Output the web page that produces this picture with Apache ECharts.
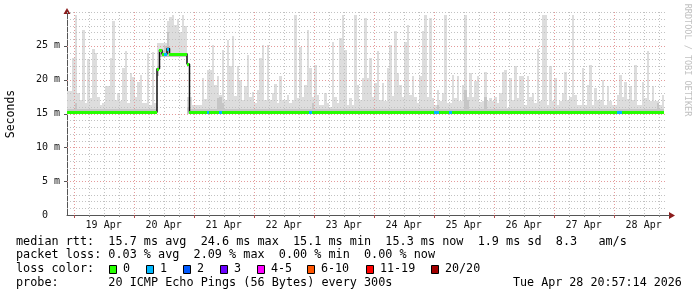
<!DOCTYPE html>
<html><head><meta charset="utf-8">
<script src="https://cdn.jsdelivr.net/npm/echarts@6/dist/echarts.min.js"></script>
<style>html,body{margin:0;padding:0;background:#fff}#c{width:697px;height:297px}</style>
</head><body><div id="c"></div>
<script>
// ---- time axis: hours since 18 Apr 00:00 ----
const AXIS_MIN_HOUR = 21.35;
const AXIS_MAX_HOUR = 261.35;
const T0 = 21.35;        // start of first 1-hour bin
const BIN_HOURS = 1;

// upper edge of the smoke (ms), one value per hour bin
const smokeHi = [
18.3,18.3,23.2,29.6,18.0,17.0,27.4,16.5,23.0,17.3,
24.6,24.0,17.5,16.3,16.5,19.1,19.1,23.2,28.6,17.0,
18.1,16.8,21.7,24.3,16.5,21.0,20.4,17.5,19.7,20.7,
16.6,16.6,24.0,16.3,24.1,16.5,25.4,25.4,25.4,25.4,
28.6,29.2,29.6,28.1,29.0,27.0,29.5,27.9,17.5,17.5,
16.3,16.3,16.3,16.3,20.2,17.2,21.4,21.4,25.1,19.2,
20.5,17.8,24.4,17.0,25.9,22.0,26.4,17.6,22.0,20.0,
17.0,19.0,23.7,17.5,18.2,16.6,18.4,23.2,25.1,17.0,
25.1,17.0,18.0,19.3,16.5,20.5,17.0,17.0,17.7,16.5,
17.0,29.6,17.3,24.8,17.5,19.2,27.4,21.7,17.4,22.2,
17.7,16.3,16.3,18.0,16.6,16.0,25.6,17.5,16.5,26.1,
29.6,24.4,16.3,17.3,16.3,29.6,19.2,17.0,20.2,29.1,
20.2,23.2,17.4,19.5,24.2,17.0,19.5,16.8,21.7,25.1,
17.6,27.2,21.0,19.2,17.5,25.6,28.1,17.7,20.5,17.5,
16.5,20.5,27.2,29.6,17.5,29.1,17.3,16.3,18.5,16.8,
18.0,29.6,16.5,16.5,20.7,17.3,20.5,16.8,19.2,29.6,
17.5,21.0,17.4,19.8,20.5,16.7,16.8,21.2,16.8,17.3,
16.8,17.5,16.5,18.0,21.2,21.4,15.8,20.2,17.0,22.0,
17.3,20.5,20.5,16.3,20.5,17.5,18.0,16.6,24.6,16.8,
29.6,29.6,16.3,22.0,16.8,20.2,16.3,16.8,18.0,21.2,
17.0,17.5,29.6,17.7,16.3,16.3,21.7,16.3,19.2,22.2,
16.3,18.8,17.0,17.0,20.0,16.3,19.0,16.8,16.3,16.3,
17.7,20.7,17.5,19.7,17.2,19.0,17.0,22.2,16.3,16.3,
19.7,17.3,24.2,16.8,19.0,16.8,16.8,16.3,17.7,null
];
// lower edge of the smoke (ms)
const smokeLo = [
15.0,15.0,15.0,15.0,15.0,15.0,15.0,15.0,15.0,15.0,
15.0,15.0,15.0,15.0,15.0,15.0,15.0,15.0,15.0,15.0,
15.0,15.0,15.0,15.0,15.0,15.0,15.0,15.0,15.0,15.0,
15.0,15.0,15.0,15.0,15.0,15.0,20.5,23.4,23.4,23.4,
23.4,23.4,23.4,23.4,23.4,23.4,23.4,23.4,15.0,15.0,
15.0,15.0,15.0,15.0,15.0,15.0,15.0,15.0,15.0,15.0,
15.0,15.0,15.0,15.0,15.0,15.0,15.0,15.0,15.0,15.0,
15.0,15.0,15.0,15.0,15.0,15.0,15.0,15.0,15.0,15.0,
15.0,15.0,15.0,15.0,15.0,15.0,15.0,15.0,15.0,15.0,
15.0,15.0,15.0,15.0,15.0,15.0,15.0,15.0,15.0,15.0,
15.0,15.0,15.0,15.0,15.0,15.0,15.0,15.0,15.0,15.0,
15.0,15.0,15.0,15.0,15.0,15.0,15.0,15.0,15.0,15.0,
15.0,15.0,15.0,15.0,15.0,15.0,15.0,15.0,15.0,15.0,
15.0,15.0,15.0,15.0,15.0,15.0,15.0,15.0,15.0,15.0,
15.0,15.0,15.0,15.0,15.0,15.0,15.0,15.0,15.0,15.0,
15.0,15.0,15.0,15.0,15.0,15.0,15.0,15.0,15.0,15.0,
15.0,15.0,15.0,15.0,15.0,15.0,15.0,15.0,15.0,15.0,
15.0,15.0,15.0,15.0,15.0,15.0,15.0,15.0,15.0,15.0,
15.0,15.0,15.0,15.0,15.0,15.0,15.0,15.0,15.0,15.0,
15.0,15.0,15.0,15.0,15.0,15.0,15.0,15.0,15.0,15.0,
15.0,15.0,15.0,15.0,15.0,15.0,15.0,15.0,15.0,15.0,
15.0,15.0,15.0,15.0,15.0,15.0,15.0,15.0,15.0,15.0,
15.0,15.0,15.0,15.0,15.0,15.0,15.0,15.0,15.0,15.0,
15.0,15.0,15.0,15.0,15.0,15.0,15.0,15.0,15.0,null
];
// top of the denser (darker) smoke near the median (ms)
const smokeMid = [
15.7,15.7,15.7,16.5,15.7,15.7,15.7,15.7,15.7,15.7,
15.7,15.7,15.7,15.7,15.7,15.7,15.7,15.7,15.7,15.7,
15.7,15.7,15.7,15.7,15.7,15.7,15.7,15.7,15.7,15.7,
15.7,15.7,15.7,15.7,15.7,15.7,22.0,24.0,24.2,25.0,
27.0,24.0,24.0,24.0,24.0,24.0,24.0,24.0,16.0,15.7,
15.7,15.7,15.7,15.7,15.7,15.7,15.7,15.7,15.7,15.7,
17.3,17.5,16.5,15.7,15.7,15.7,15.7,15.7,15.7,15.7,
15.7,15.7,15.7,15.7,15.7,15.7,15.7,15.7,15.7,15.7,
15.7,15.7,15.7,15.7,15.7,15.7,15.7,15.7,15.7,15.7,
15.7,15.7,15.7,15.7,15.7,15.7,15.7,15.7,16.5,15.7,
15.7,15.7,15.7,15.7,15.7,15.7,15.7,15.7,15.7,15.7,
15.7,15.7,15.7,15.7,15.7,15.7,15.7,15.7,15.7,15.7,
15.7,15.7,15.7,15.7,15.7,15.7,15.7,15.7,15.7,15.7,
15.7,15.7,15.7,15.7,15.7,15.7,15.7,15.7,15.7,15.7,
15.7,15.7,15.7,15.7,15.7,15.7,15.7,15.7,16.3,15.7,
15.7,15.7,15.7,15.7,15.7,15.7,15.7,15.7,15.7,18.5,
17.0,15.7,15.7,15.7,15.7,15.7,15.7,17.5,15.7,15.7,
15.7,15.7,15.7,15.7,15.7,15.7,15.7,15.7,15.7,15.7,
15.7,15.7,15.7,15.7,15.7,15.7,15.7,15.7,15.7,15.7,
15.7,15.7,15.7,15.7,15.7,15.7,15.7,15.7,15.7,15.7,
15.7,15.7,15.7,15.7,15.7,15.7,15.7,15.7,15.7,15.7,
15.7,15.7,15.7,15.7,15.7,15.7,15.7,15.7,15.7,15.7,
15.7,15.7,15.7,15.7,15.7,15.7,15.7,15.7,15.7,15.7,
15.7,15.7,15.7,15.7,15.7,15.7,16.5,15.7,15.7,null
];
// median RTT (ms)
const medianRtt = [
15.2,15.2,15.2,15.2,15.2,15.2,15.2,15.2,15.2,15.2,
15.2,15.2,15.2,15.2,15.2,15.2,15.2,15.2,15.2,15.2,
15.2,15.2,15.2,15.2,15.2,15.2,15.2,15.2,15.2,15.2,
15.2,15.2,15.2,15.2,15.2,15.2,21.6,24.4,23.8,23.8,
24.6,23.8,23.8,23.8,23.8,23.8,23.8,23.8,22.3,15.2,
15.2,15.2,15.2,15.2,15.2,15.2,15.2,15.2,15.2,15.2,
15.2,15.2,15.2,15.2,15.2,15.2,15.2,15.2,15.2,15.2,
15.2,15.2,15.2,15.2,15.2,15.2,15.2,15.2,15.2,15.2,
15.2,15.2,15.2,15.2,15.2,15.2,15.2,15.2,15.2,15.2,
15.2,15.2,15.2,15.2,15.2,15.2,15.2,15.2,15.2,15.2,
15.2,15.2,15.2,15.2,15.2,15.2,15.2,15.2,15.2,15.2,
15.2,15.2,15.2,15.2,15.2,15.2,15.2,15.2,15.2,15.2,
15.2,15.2,15.2,15.2,15.2,15.2,15.2,15.2,15.2,15.2,
15.2,15.2,15.2,15.2,15.2,15.2,15.2,15.2,15.2,15.2,
15.2,15.2,15.2,15.2,15.2,15.2,15.2,15.2,15.2,15.2,
15.2,15.2,15.2,15.2,15.2,15.2,15.2,15.2,15.2,15.2,
15.2,15.2,15.2,15.2,15.2,15.2,15.2,15.2,15.2,15.2,
15.2,15.2,15.2,15.2,15.2,15.2,15.2,15.2,15.2,15.2,
15.2,15.2,15.2,15.2,15.2,15.2,15.2,15.2,15.2,15.2,
15.2,15.2,15.2,15.2,15.2,15.2,15.2,15.2,15.2,15.2,
15.2,15.2,15.2,15.2,15.2,15.2,15.2,15.2,15.2,15.2,
15.2,15.2,15.2,15.2,15.2,15.2,15.2,15.2,15.2,15.2,
15.2,15.2,15.2,15.2,15.2,15.2,15.2,15.2,15.2,15.2,
15.2,15.2,15.2,15.2,15.2,15.2,15.2,15.2,15.2,null
];
// loss class index per bin (0 = no loss, 1 = 1 of 20 lost)
const lossIdx = [
0,0,0,0,0,0,0,0,0,0, 0,0,0,0,0,0,0,0,0,0, 0,0,0,0,0,0,0,0,0,0,
0,0,0,0,0,0,0,0,0,1, 1,0,0,0,0,0,0,0,0,0, 0,0,0,0,0,0,1,0,0,0,
0,1,0,0,0,0,0,0,0,0, 0,0,0,0,0,0,0,0,0,0, 0,0,0,0,0,0,0,0,0,0,
0,0,0,0,0,0,0,1,0,0, 0,0,0,0,0,0,0,0,0,0, 0,0,0,0,0,0,0,0,0,0,
0,0,0,0,0,0,0,0,0,0, 0,0,0,0,0,0,0,0,0,0, 0,0,0,0,0,0,0,1,1,0,
0,0,0,1,0,0,0,0,0,0, 0,0,0,0,0,0,0,0,0,0, 0,0,0,0,0,0,0,0,0,0,
0,0,0,0,0,0,0,0,0,0, 0,0,0,0,0,0,0,0,0,0, 0,0,0,0,0,0,0,0,0,0,
0,0,0,0,0,0,0,0,0,0, 1,1,0,0,0,0,0,0,0,0, 0,0,0,0,0,0,0,0,0,0,
0,0,0,0,0,0,0,0,0,0
];

const dayNoonHours = [36,60,84,108,132,156,180,204,228,252];
const dayLabels = ['19 Apr','20 Apr','21 Apr','22 Apr','23 Apr','24 Apr','25 Apr','26 Apr','27 Apr','28 Apr'];
const xGridHours = [24,30,36,42,48,54,60,66,72,78,84,90,96,102,108,114,120,126,132,138,144,150,156,162,
  168,174,180,186,192,198,204,210,216,222,228,234,240,246,252,258];
const yGridValues = [1,2,3,4,5,6,7,8,9,10,11,12,13,14,15,16,17,18,19,20,21,22,23,24,25,26,27,28,29,30];
const yTickValues = [0,5,10,15,20,25];
const yTickLabels = ['0  ','5 m','10 m','15 m','20 m','25 m'];

const lossLabels = ['0','1','2','3','4-5','6-10','11-19','20/20'];
const lossColors = ['#26ff00','#00b8ff','#0059ff','#6a00ff','#ff00ff','#ff5500','#ff0000','#a10000'];

const legendLines = [
  'median rtt:  15.7 ms avg  24.6 ms max  15.1 ms min  15.3 ms now  1.9 ms sd  8.3   am/s',
  'packet loss: 0.03 % avg  2.09 % max  0.00 % min  0.00 % now',
  'loss color:',
  'probe:       20 ICMP Echo Pings (56 Bytes) every 300s'
];
const stampText = 'Tue Apr 28 20:57:14 2026';

// ---------------------------------------------------------------
const MONO = '"DejaVu Sans Mono", "Liberation Mono", monospace';
const chart = echarts.init(document.getElementById('c'), null, {renderer: 'canvas'});

const bins = [];
smokeHi.forEach((hi, k) => {
  if (hi == null) return;
  bins.push({t: T0 + k * BIN_HOURS, hi, lo: smokeLo[k], mid: smokeMid[k], med: medianRtt[k], loss: lossIdx[k]});
});

function band(name, color, topKey, z) {
  return {
    type: 'custom', name, z, silent: true, clip: true,
    encode: {x: 0, y: [1, 2]},
    data: bins.map(b => [b.t, b.lo, b[topKey]]),
    renderItem: (params, api) => {
      const t = api.value(0), lo = api.value(1), hi = api.value(2);
      if (!(hi > lo)) return null;
      const a = api.coord([t, hi]), c = api.coord([t + BIN_HOURS, lo]);
      const x0 = Math.round(a[0]), x1 = Math.round(c[0]);
      const y0 = Math.round(a[1]), y1 = Math.round(c[1]);
      return {type: 'rect', shape: {x: x0, y: y0, width: x1 - x0, height: y1 - y0},
        style: {fill: color}};
    }
  };
}

const gridV = {
  type: 'custom', z: 3, silent: true, clip: false,
  encode: {x: 0, y: 1},
  data: xGridHours.map(h => [h, 0]),
  renderItem: (params, api) => {
    const h = api.value(0);
    const cs = params.coordSys;
    const x = Math.round(api.coord([h, 0])[0]) + 0.5;
    const major = h % 24 === 0;
    return {type: 'group', children: [
      {type: 'line', shape: {x1: x, y1: cs.y, x2: x, y2: cs.y + cs.height},
        style: {stroke: major ? '#e49a9a' : '#c2c2c2', lineWidth: 1, lineDash: [1, 2]}},
      {type: 'line', shape: {x1: x, y1: cs.y + cs.height, x2: x, y2: cs.y + cs.height + (major ? 3 : 2)},
        style: {stroke: major ? '#b05050' : '#888', lineWidth: 1}}
    ]};
  }
};
const gridH = {
  type: 'custom', z: 3, silent: true, clip: false,
  encode: {x: 0, y: 1},
  data: yGridValues.map(v => [AXIS_MIN_HOUR, v]),
  renderItem: (params, api) => {
    const v = api.value(1);
    const cs = params.coordSys;
    const y = Math.round(api.coord([AXIS_MIN_HOUR, v])[1]) + 0.5;
    const major = v % 5 === 0 && v < 30;
    const kids = [{type: 'line', shape: {x1: cs.x, y1: y, x2: cs.x + cs.width, y2: y},
      style: {stroke: major ? '#e49a9a' : '#c2c2c2', lineWidth: 1, lineDash: [1, 2]}}];
    if (major) kids.push({type: 'line', shape: {x1: cs.x - 3, y1: y, x2: cs.x, y2: y},
      style: {stroke: '#555', lineWidth: 1}});
    return {type: 'group', children: kids};
  }
};

const medianBlack = {
  type: 'line', z: 4, silent: true, step: 'end', symbol: 'none',
  data: bins.map(b => [b.t, b.med]),
  lineStyle: {color: '#111', width: 1.5}
};
const medianColored = {
  type: 'custom', z: 5, silent: true, clip: true,
  encode: {x: 0, y: 1},
  data: bins.map(b => [b.t, b.med, b.loss]),
  renderItem: (params, api) => {
    const t = api.value(0), m = api.value(1), l = api.value(2);
    const a = api.coord([t, m]), c = api.coord([t + BIN_HOURS, m]);
    const x0 = Math.round(a[0]), x1 = Math.round(c[0]);
    const y = Math.round(a[1]);
    return {type: 'rect', shape: {x: x0, y: y - 1, width: x1 - x0, height: 3},
      style: {fill: lossColors[l]}};
  }
};

const graphics = [];
// axis arrows
graphics.push({type: 'polygon', silent: true, shape: {points: [[67, 8], [63.5, 14], [70.5, 14]]}, style: {fill: '#8b1c1c'}});
graphics.push({type: 'polygon', silent: true, shape: {points: [[675, 215.5], [669, 212], [669, 219]]}, style: {fill: '#8b1c1c'}});
graphics.push({type: 'line', silent: true, shape: {x1: 667, y1: 215.5, x2: 670, y2: 215.5}, style: {stroke: '#555', lineWidth: 1}});
// y axis title
graphics.push({type: 'text', x: 11, y: 114, rotation: Math.PI / 2, silent: true,
  style: {text: 'Seconds', font: '11.5px ' + MONO, fill: '#000', align: 'center', verticalAlign: 'middle',
    textAlign: 'center', textVerticalAlign: 'middle'}});
// watermark
graphics.push({type: 'text', x: 687, y: 60, rotation: -Math.PI / 2, silent: true,
  style: {text: 'RRDTOOL / TOBI OETIKER', font: '8.5px ' + MONO, fill: '#c0c0c0', align: 'center', verticalAlign: 'middle',
    textAlign: 'center', textVerticalAlign: 'middle'}});
// legend lines
const rowY = [241.5, 255.2, 269, 282.7];
legendLines.forEach((s, i) => {
  graphics.push({type: 'text', x: 16, y: rowY[i], silent: true,
    style: {text: s, font: '11.8px ' + MONO, fill: '#000', align: 'left', verticalAlign: 'middle',
      textAlign: 'left', textVerticalAlign: 'middle'}});
});
graphics.push({type: 'text', x: 513, y: rowY[3], silent: true,
  style: {text: stampText, font: '11.7px ' + MONO, fill: '#000', align: 'left', verticalAlign: 'middle',
    textAlign: 'left', textVerticalAlign: 'middle'}});
// loss colour swatches
const swatchX = [109, 146, 183, 220, 257, 307, 366, 431];
lossLabels.forEach((lab, i) => {
  graphics.push({type: 'rect', silent: true, shape: {x: swatchX[i] + 0.5, y: 265.5, width: 7, height: 8},
    style: {fill: lossColors[i], stroke: '#000', lineWidth: 1}});
  graphics.push({type: 'text', x: swatchX[i] + 14, y: rowY[2], silent: true,
    style: {text: lab, font: '11.7px ' + MONO, fill: '#000', align: 'left', verticalAlign: 'middle',
      textAlign: 'left', textVerticalAlign: 'middle'}});
});

chart.setOption({
  animation: false,
  backgroundColor: '#ffffff',
  grid: {left: 67, right: 30, top: 12, bottom: 82, containLabel: false},
  xAxis: {
    type: 'value', min: AXIS_MIN_HOUR, max: AXIS_MAX_HOUR,
    splitLine: {show: false}, axisTick: {show: false},
    axisLine: {show: true, lineStyle: {color: '#555', width: 1}},
    axisLabel: {
      customValues: dayNoonHours, margin: 5, color: '#111',
      fontFamily: MONO, fontSize: 10,
      formatter: v => { const i = dayNoonHours.indexOf(v); return i >= 0 ? dayLabels[i] : ''; }
    }
  },
  yAxis: {
    type: 'value', min: 0, max: 30, interval: 5,
    splitLine: {show: false}, axisTick: {show: false},
    axisLine: {show: true, lineStyle: {color: '#555', width: 1}},
    axisLabel: {
      margin: 7, color: '#111', fontFamily: MONO, fontSize: 10,
      formatter: v => { const i = yTickValues.indexOf(v); return i >= 0 ? yTickLabels[i] : ''; }
    }
  },
  series: [
    band('smoke', '#dddddd', 'hi', 1),
    band('smokeCore', '#c6c6c6', 'mid', 2),
    gridV, gridH,
    medianBlack, medianColored
  ],
  graphic: graphics
});
</script></body></html>
